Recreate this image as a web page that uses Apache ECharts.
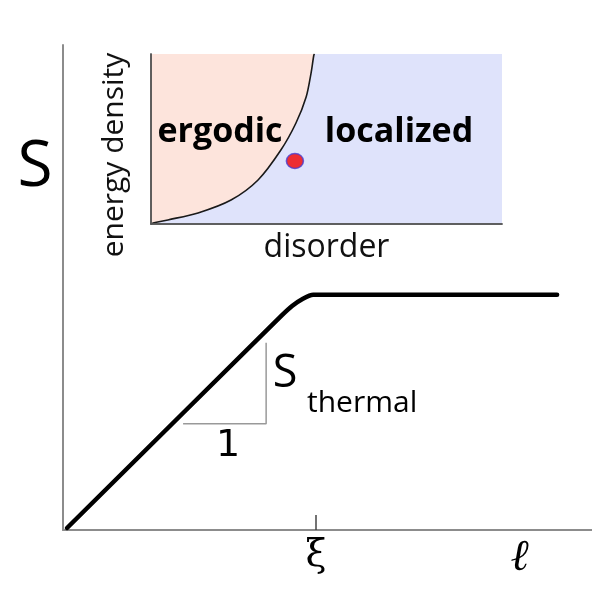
<!DOCTYPE html>
<html>
<head>
<meta charset="utf-8">
<script src="https://cdn.jsdelivr.net/npm/echarts@6/dist/echarts.min.js"></script>
<style>
  html, body { margin: 0; padding: 0; background: #fff; }
  #chart { width: 592px; height: 594px; }
</style>
</head>
<body>
<div id="chart"></div>
<script>
// Entanglement entropy S versus subsystem size ℓ (axis units 0..100)
const entropyX = [0.76, 41.4, 43.3, 45.2, 47.3, 93.4];
const entropyY = [0.41, 44.3, 46.2, 47.6, 48.5, 48.5];

// Slope triangle under the linear part
const slopeX = [22.7, 38.4, 38.4];
const slopeY = [21.9, 21.9, 38.6];

// Marked positions along the ℓ axis
const xiValue = 47.8;
const ellValue = 86.5;
const tickLabels = { xi: 'ξ', ell: 'ℓ' };

// Inset phase diagram: disorder (x) vs energy density (y), units 0..100
const boundaryX = [0, 0.6, 4.8, 13.4, 22.8, 30.5, 37.0, 41.3, 44.2, 45.6, 46.4, 46.6];
const boundaryY = [0, 0.6, 2.4, 6.5, 14.1, 25.9, 43.5, 59.4, 74.7, 88.8, 99.4, 100];
const sampleX = [41.0];
const sampleY = [37.1];

const pair = (xs, ys) => xs.map((x, i) => [x, ys[i]]);

const axisGray = '#8c8c8c';
const frameGray = '#555';
const sans = '"Open Sans", sans-serif';

const chart = echarts.init(document.getElementById('chart'), null, { renderer: 'canvas' });

const hiddenAxis = {
  splitLine: { show: false },
  axisTick: { show: false },
  axisLabel: { show: false }
};

chart.setOption({
  animation: false,
  backgroundColor: '#fff',
  grid: [
    { left: 63, right: 0, top: 45, bottom: 64 },
    { left: 151, top: 54, width: 351, height: 170, show: true,
      backgroundColor: '#dfe3fb', borderWidth: 0 }
  ],
  xAxis: [
    Object.assign({}, hiddenAxis, {
      type: 'value', gridIndex: 0, min: 0, max: 100,
      axisLine: { show: true, lineStyle: { color: axisGray, width: 2 } },
      axisTick: {
        show: true, inside: true, length: 15,
        customValues: [xiValue],
        lineStyle: { color: '#444', width: 1.5 }
      },
      axisLabel: {
        show: true, margin: 7,
        customValues: [xiValue, ellValue],
        formatter: v => (v === xiValue ? '{xi|' + tickLabels.xi + '}' : '{ell|' + tickLabels.ell + '}'),
        rich: {
          xi: { fontFamily: '"DejaVu Serif", serif', fontSize: 38, color: '#000' },
          ell: { fontFamily: '"DejaVu Serif", serif', fontStyle: 'italic', fontWeight: 'bold', fontSize: 44, color: '#000' }
        }
      }
    }),
    Object.assign({}, hiddenAxis, {
      type: 'value', gridIndex: 1, min: 0, max: 100, position: 'bottom', z: 10,
      axisLine: { show: true, lineStyle: { color: frameGray, width: 1.5 } },
      name: 'disorder', nameLocation: 'middle', nameGap: 8,
      nameTextStyle: { fontFamily: sans, fontSize: 32, color: '#111', verticalAlign: 'top' }
    }),
    Object.assign({}, hiddenAxis, {
      type: 'value', gridIndex: 1, min: 0, max: 100, position: 'top', z: 10,
      axisLine: { show: true, lineStyle: { color: frameGray, width: 1.5 } }
    })
  ],
  yAxis: [
    Object.assign({}, hiddenAxis, {
      type: 'value', gridIndex: 0, min: 0, max: 100,
      axisLine: { show: true, lineStyle: { color: axisGray, width: 2 } }
    }),
    Object.assign({}, hiddenAxis, {
      type: 'value', gridIndex: 1, min: 0, max: 100, position: 'left', z: 10,
      axisLine: { show: true, lineStyle: { color: frameGray, width: 1.5 } }
    }),
    Object.assign({}, hiddenAxis, {
      type: 'value', gridIndex: 1, min: 0, max: 100, position: 'right', z: 10,
      axisLine: { show: true, lineStyle: { color: frameGray, width: 1.5 } }
    })
  ],
  series: [
    {
      name: 'entropy', type: 'line', xAxisIndex: 0, yAxisIndex: 0,
      data: pair(entropyX, entropyY),
      showSymbol: false, smooth: 0.25,
      lineStyle: { color: '#000', width: 4.5, cap: 'round', join: 'round' }
    },
    {
      name: 'slope', type: 'line', xAxisIndex: 0, yAxisIndex: 0,
      data: pair(slopeX, slopeY),
      showSymbol: false,
      lineStyle: { color: '#999', width: 1.5 }
    },
    {
      name: 'ergodic region', type: 'line', xAxisIndex: 1, yAxisIndex: 1,
      data: pair(boundaryX, boundaryY),
      showSymbol: false, smooth: 0.3,
      lineStyle: { color: '#1a1a1a', width: 1.6 },
      areaStyle: { origin: 'end', color: '#fde4dc', opacity: 1 }
    },
    {
      name: 'sample', type: 'scatter', xAxisIndex: 1, yAxisIndex: 1,
      data: pair(sampleX, sampleY),
      symbol: 'circle', symbolSize: [17, 15], z: 5,
      itemStyle: { color: '#f00000', borderColor: '#4a3fd0', borderWidth: 1.5 }
    }
  ],
  graphic: [
    { type: 'text', x: 35, y: 168, z: 20,
      style: { text: 'S', font: '64px "Open Sans"', fill: '#000', align: 'center', verticalAlign: 'middle' } },
    { type: 'text', x: 114, y: 155, rotation: Math.PI / 2, z: 20,
      style: { text: 'energy density', font: '30px "Open Sans"', fill: '#111', align: 'center', verticalAlign: 'middle' } },
    { type: 'text', x: 220, y: 132, z: 20,
      style: { text: 'ergodic', font: 'bold 34px "Open Sans"', fill: '#000', align: 'center', verticalAlign: 'middle' } },
    { type: 'text', x: 399, y: 132, z: 20,
      style: { text: 'localized', font: 'bold 34px "Open Sans"', fill: '#000', align: 'center', verticalAlign: 'middle' } },
    { type: 'text', x: 285, y: 374, z: 20,
      style: { text: 'S', font: '45px "Open Sans"', fill: '#000', align: 'center', verticalAlign: 'middle' } },
    { type: 'text', x: 307, y: 403, z: 20,
      style: { text: 'thermal', font: '30px "Open Sans"', fill: '#000', align: 'left', verticalAlign: 'middle' } },
    { type: 'text', x: 228, y: 446, z: 20,
      style: { text: '1', font: '38px "DejaVu Sans"', fill: '#000', align: 'center', verticalAlign: 'middle' } }
  ]
});
</script>
</body>
</html>
